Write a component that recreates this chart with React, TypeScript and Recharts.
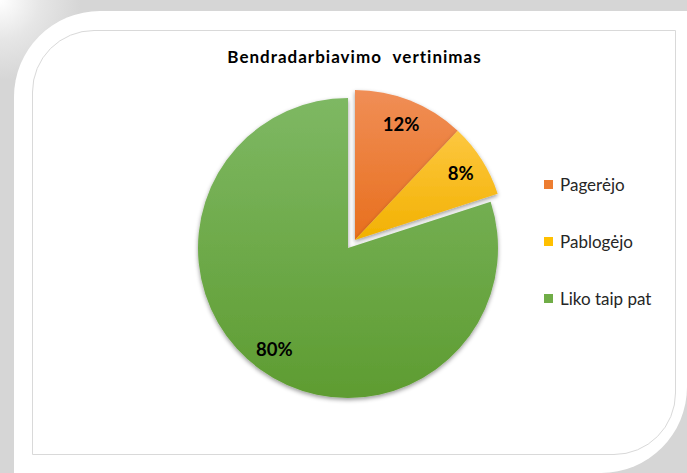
import React from 'react';
import { PieChart, Pie, Cell, Legend } from 'recharts';

const categories = ['Pagerėjo', 'Pablogėjo', 'Liko taip pat'];
const values = [12, 8, 80];
const colors = ['#ed7d31', '#ffc000', '#70ad47'];
const exploded = [true, true, false];

const data = categories.map((name, i) => ({ name, value: values[i] }));

const FONT = 'Lato, "Open Sans", sans-serif';

const renderLabel = (showExploded: boolean) => (props: any) => {
  const { cx, cy, midAngle, outerRadius, index, value } = props;
  if (exploded[index] !== showExploded) return null;
  const r = outerRadius * 0.835;
  const rad = (Math.PI / 180) * midAngle;
  const x = cx + r * Math.cos(rad);
  const y = cy - r * Math.sin(rad);
  return (
    <text x={x} y={y} textAnchor="middle" dominantBaseline="central" fontFamily={FONT} fontWeight={700} fontSize={18.5} fill="#000">
      {value}%
    </text>
  );
};

const LegendContent = () => (
  <div style={{ fontFamily: FONT, fontSize: 17, color: '#262626' }}>
    {categories.map((c, i) => (
      <div key={c} style={{ display: 'flex', alignItems: 'center', height: 57 }}>
        <span style={{ width: 9, height: 9, background: colors[i], marginRight: 7, display: 'inline-block' }} />
        {c}
      </div>
    ))}
  </div>
);

const App = () => {
  return (
    <div
      style={{
        position: 'absolute',
        left: 0,
        top: 0,
        width: 687,
        height: 473,
        overflow: 'hidden',
        background: 'radial-gradient(circle at 0 0, #ffffff 0px, #e6e6e6 40px, #d6d6d6 80px, #d6d6d6 100%)',
      }}
    >
      <div
        style={{
          position: 'absolute',
          left: 14,
          top: 11,
          width: 673,
          height: 462,
          background: '#fff',
          borderTopLeftRadius: 86,
          borderBottomRightRadius: 86,
        }}
      />
      <div
        style={{
          position: 'absolute',
          left: 32,
          top: 30,
          width: 642,
          height: 423,
          border: '1px solid #d9d9d9',
          borderTopLeftRadius: 62,
          borderBottomRightRadius: 62,
        }}
      />
      <div
        style={{
          position: 'absolute',
          left: 0,
          top: 46,
          width: 687,
          textAlign: 'center',
          paddingLeft: 22,
          boxSizing: 'border-box',
          fontFamily: FONT,
          fontWeight: 700,
          fontSize: 17,
          color: '#000',
          letterSpacing: 1,
          wordSpacing: 6,
        }}
      >
        Bendradarbiavimo vertinimas
      </div>
      <div style={{ position: 'absolute', left: 0, top: 0 }}>
        <PieChart width={687} height={473} margin={{ top: 0, right: 0, bottom: 0, left: 0 }}>
          <defs>
            <filter id="pieShadow" x="-20%" y="-20%" width="140%" height="140%">
              <feDropShadow dx="0" dy="2" stdDeviation="2.2" floodColor="#000" floodOpacity="0.4" />
            </filter>
            <linearGradient id="g0" x1="0" y1="0" x2="0" y2="1">
              <stop offset="0%" stopColor="#f08e56" />
              <stop offset="100%" stopColor="#e86f1d" />
            </linearGradient>
            <linearGradient id="g1" x1="0" y1="0" x2="0" y2="1">
              <stop offset="0%" stopColor="#fdc740" />
              <stop offset="100%" stopColor="#f2b100" />
            </linearGradient>
            <linearGradient id="g2" x1="0" y1="0" x2="0" y2="1">
              <stop offset="0%" stopColor="#7eb863" />
              <stop offset="100%" stopColor="#5e9c31" />
            </linearGradient>
          </defs>
          <Pie
            data={data}
            dataKey="value"
            nameKey="name"
            cx={348}
            cy={248}
            outerRadius={150}
            startAngle={90}
            endAngle={-270}
            isAnimationActive={false}
            labelLine={false}
            label={renderLabel(false)}
            legendType="none"
          >
            {data.map((d, i) => (
              <Cell
                key={d.name}
                fill={exploded[i] ? 'none' : `url(#g${i})`}
                stroke="none"
                filter={exploded[i] ? undefined : 'url(#pieShadow)'}
              />
            ))}
          </Pie>
          <Pie
            data={data}
            dataKey="value"
            nameKey="name"
            cx={355}
            cy={240}
            outerRadius={150}
            startAngle={90}
            endAngle={-270}
            isAnimationActive={false}
            labelLine={false}
            label={renderLabel(true)}
            legendType="none"
          >
            {data.map((d, i) => (
              <Cell
                key={d.name}
                fill={exploded[i] ? `url(#g${i})` : 'none'}
                stroke="none"
                filter={exploded[i] ? 'url(#pieShadow)' : undefined}
              />
            ))}
          </Pie>
          <Legend
            layout="vertical"
            content={<LegendContent />}
            wrapperStyle={{ left: 544, top: 156, width: 130 }}
          />
        </PieChart>
      </div>
    </div>
  );
};

export default App;
